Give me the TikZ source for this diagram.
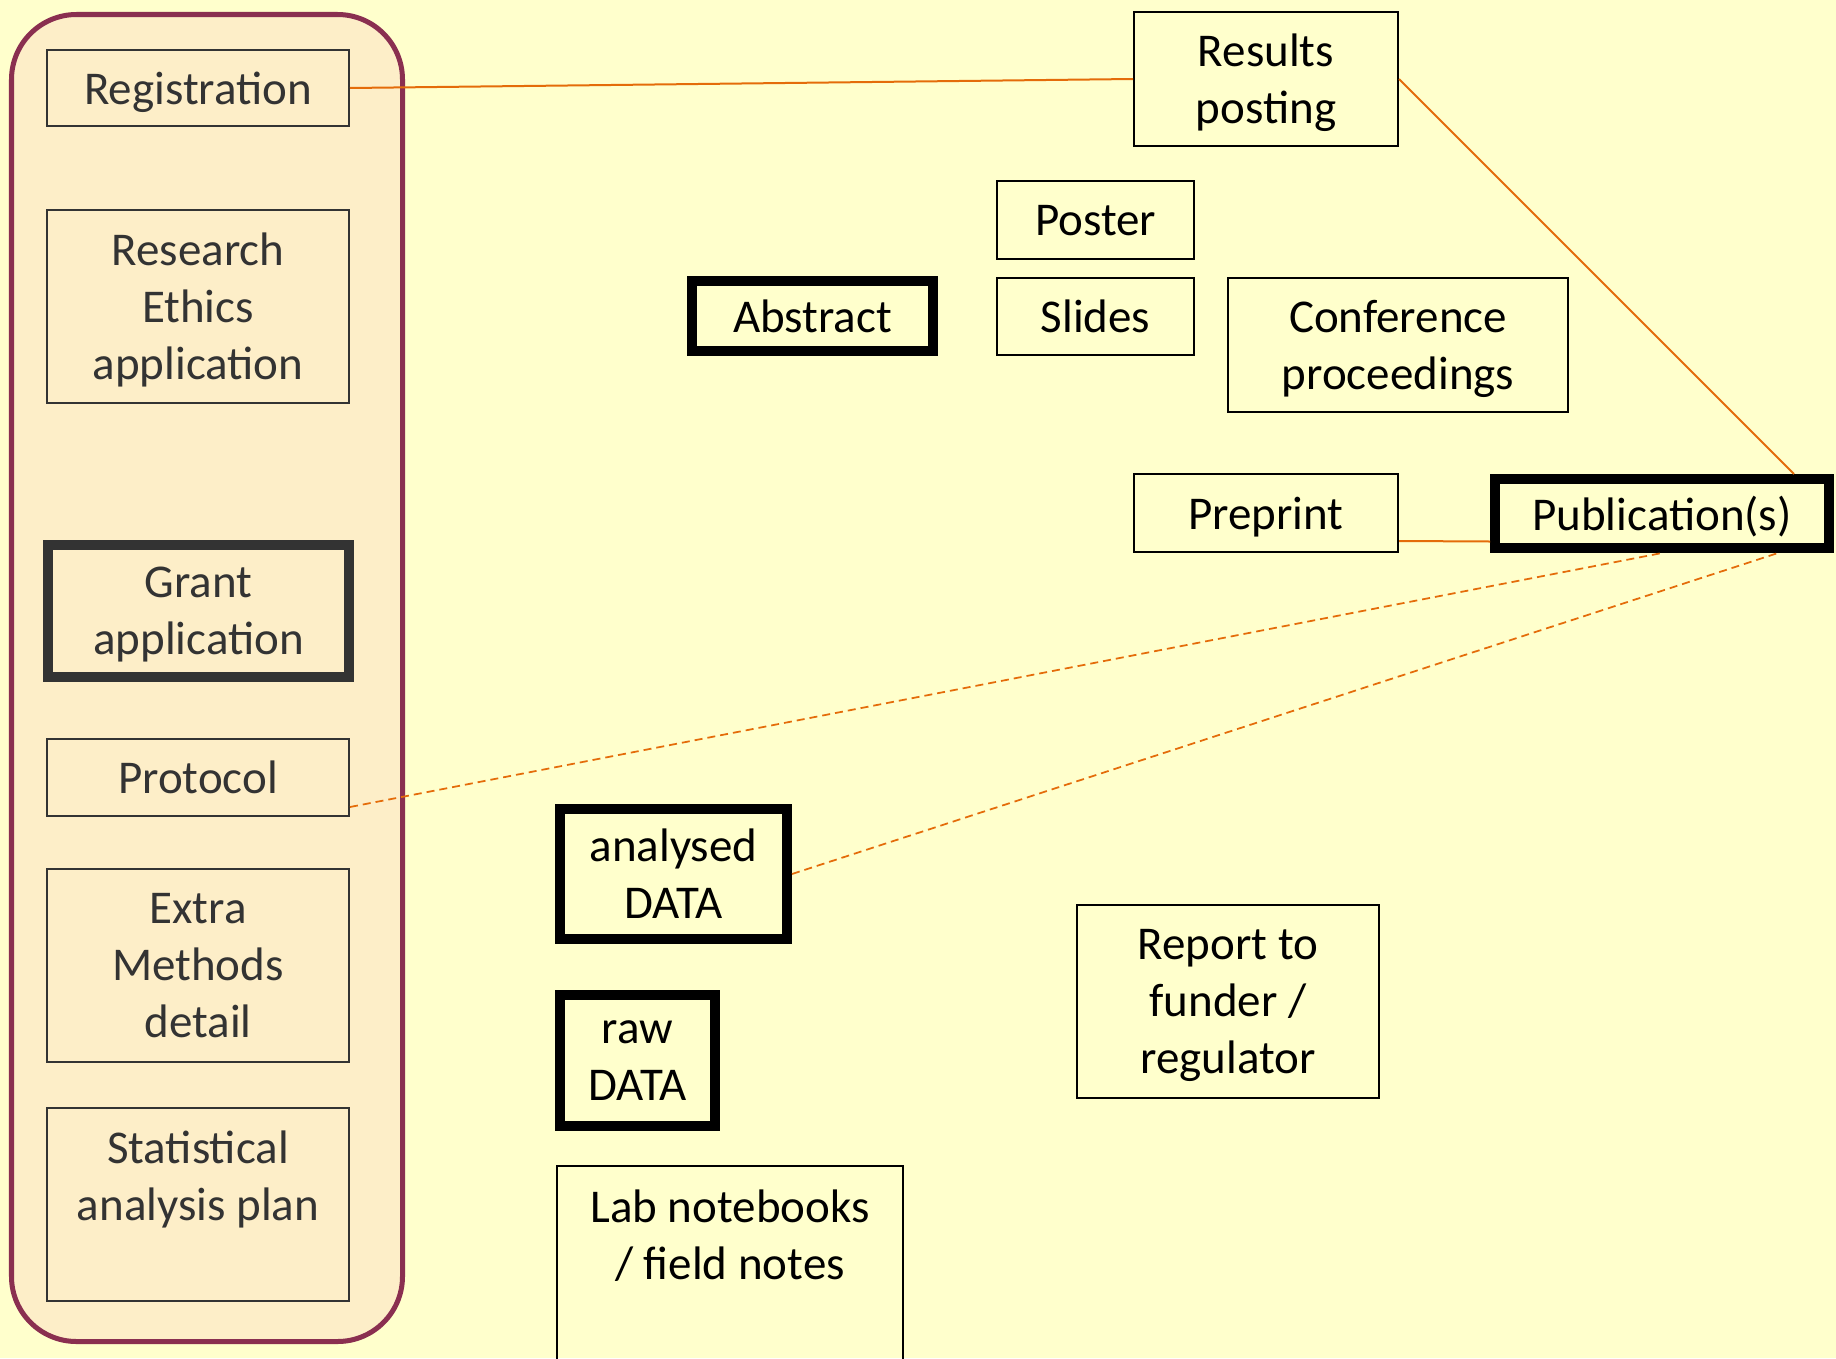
\documentclass[tikz,border=0pt]{standalone}
\usepackage{fontspec}
\setmainfont{Carlito}
\usetikzlibrary{calc}

\definecolor{bgyellow}{HTML}{FFFFCC}
\definecolor{panelfill}{HTML}{FDEEC8}
\definecolor{panelline}{HTML}{8A2F50}
\definecolor{inkgray}{HTML}{333333}
\definecolor{linkorange}{HTML}{E46C0A}

\begin{document}
\begin{tikzpicture}[
    every node/.style={font=\fontsize{26.75}{32.4}\selectfont, align=center, inner sep=0pt, text depth=0pt},
    planbox/.style={draw=inkgray, text=inkgray, line width=0.04cm},
    docbox/.style={draw=black, line width=0.04cm},
    keybox/.style={draw=black, line width=0.2cm},
    link/.style={draw=linkorange, line width=0.04cm},
    maybelink/.style={draw=linkorange, line width=0.035cm, dash pattern=on 0.16cm off 0.1cm}
]
    % Background (page proportions)
    \fill[bgyellow] (0,0) rectangle (36.72,-27.16);
    \clip (0,0) rectangle (36.72,-27.16);

    % Left panel: documents written before the study
    \draw[panelline, fill=panelfill, line width=0.1cm, rounded corners=1.3cm]
        (0.23,-0.29) rectangle (8.05,-26.83);

    \node[planbox, minimum width=6.04cm, minimum height=1.52cm] (registration) at (3.96,-1.76) {Registration};
    \node[planbox, minimum width=6.04cm, minimum height=3.86cm] (ethics_app) at (3.96,-6.12) {Research\\Ethics\\application};
    \node[planbox, line width=0.2cm, minimum width=6.02cm, minimum height=2.64cm] (grant_app) at (3.97,-12.22) {Grant\\application};
    \node[planbox, minimum width=6.04cm, minimum height=1.54cm] (protocol) at (3.96,-15.54) {Protocol};
    \node[planbox, minimum width=6.04cm, minimum height=3.86cm] (extra_methods) at (3.96,-19.30) {Extra\\Methods\\detail};
    \node[planbox, minimum width=6.04cm, minimum height=3.86cm] (stat_plan) at (3.96,-24.08) {Statistical\\analysis plan\\\mbox{}};

    % Outputs
    \node[docbox, minimum width=5.28cm, minimum height=2.68cm] (results_post) at (25.32,-1.58) {Results\\posting};
    \node[docbox, minimum width=3.94cm, minimum height=1.56cm] (poster) at (21.91,-4.40) {Poster};
    \node[docbox, minimum width=3.94cm, minimum height=1.54cm] (slides) at (21.91,-6.33) {Slides};
    \node[keybox, minimum width=4.82cm, minimum height=1.40cm] (abstract) at (16.25,-6.32) {Abstract};
    \node[docbox, minimum width=6.80cm, minimum height=2.68cm] (conf_proc) at (27.96,-6.90) {Conference\\proceedings};
    \node[docbox, minimum width=5.28cm, minimum height=1.56cm] (preprint) at (25.32,-10.26) {Preprint};
    \node[keybox, minimum width=6.68cm, minimum height=1.38cm] (publication) at (33.24,-10.27) {Publication(s)};

    % Data and records
    \node[keybox, minimum width=4.54cm, minimum height=2.60cm] (analysed_data) at (13.47,-17.48) {analysed\\DATA};
    \node[keybox, minimum width=3.10cm, minimum height=2.62cm] (raw_data) at (12.75,-21.21) {raw\\DATA};
    \node[docbox, minimum width=6.92cm, minimum height=3.88cm] (lab_notes) at (14.60,-25.26) {Lab notebooks\\/ field notes\\\mbox{}};
    \node[docbox, minimum width=6.04cm, minimum height=3.86cm] (funder_report) at (24.56,-20.03) {Report to\\funder /\\regulator};

    % Links
    \draw[link] (registration.east) -- (results_post.west);
    \draw[link] (results_post.east) -- ($(publication.north)+(2.64,0)$);
    \draw[link] ($(preprint.east)+(0,-0.56)$) -- ($(publication.west)+(0,-0.56)$);

    % Dashed links
    \draw[maybelink] ($(protocol.east)+(0,-0.60)$) -- (publication.south);
    \draw[maybelink] (analysed_data.east) -- ($(publication.south)+(2.32,0)$);
\end{tikzpicture}
\end{document}
